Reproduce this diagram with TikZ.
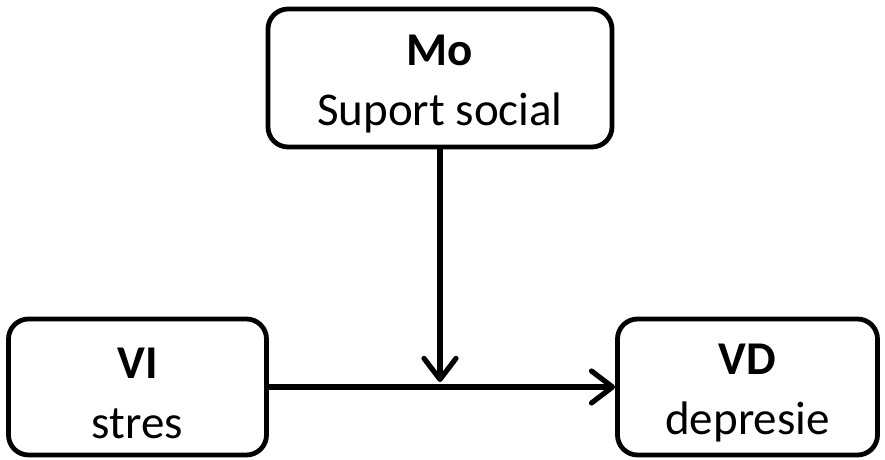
\documentclass[tikz,border=0pt]{standalone}
\usepackage{fontspec}
\setmainfont{Carlito}
\usetikzlibrary{arrows.meta}
\begin{document}
\begin{tikzpicture}[x=0.5pt,y=-0.5pt,
  box/.style={draw, line width=2.4pt, rounded corners=10pt, inner sep=0pt},
  label/.style={align=center, inner sep=0pt, font=\fontsize{23.5}{30}\selectfont},
  conn/.style={line width=2.6pt, -{Straight Barb[length=10.5pt,width=16pt,line cap=round,line join=round]}}]
\useasboundingbox (0,0) rectangle (885,460);
\node[box, minimum width=172pt, minimum height=69pt] (mo) at (440,78) {};
\node[box, minimum width=129pt, minimum height=68pt] (vi) at (137.5,387) {};
\node[box, minimum width=130pt, minimum height=68pt] (vd) at (747.5,387) {};
\node[label] (mot) at ([yshift=-3pt]mo.center) {\textbf{Mo}\\Suport social};
\node[label] (vit) at ([yshift=-3pt]vi.center) {\textbf{VI}\\stres};
\node[label] (vdt) at ([yshift=-3pt]vd.center) {\textbf{VD}\\depresie};
\coordinate (m) at ([yshift=2.5pt]mo.south |- vi.east);
\draw[conn] (vi.east) -- (vd.west);
\draw[conn] (mo.south) -- (m);
\end{tikzpicture}
\end{document}
